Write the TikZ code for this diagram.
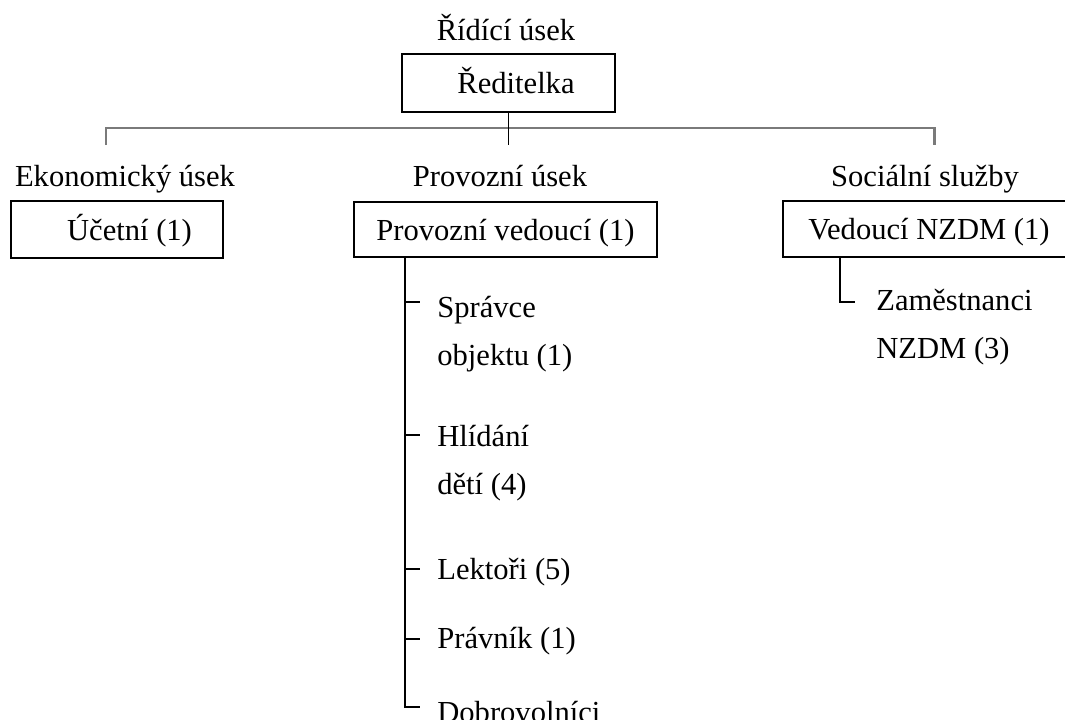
\documentclass[tikz,border=0pt]{standalone}
\usepackage{fontspec}
\setmainfont{Liberation Serif}
\usepackage{xcolor}
\usetikzlibrary{calc}
\definecolor{busgrey}{HTML}{7A7A7A}

\begin{document}
\begin{tikzpicture}[
  x=0.02cm, y=-0.02cm,
  txt/.style={inner sep=0pt, font=\fontsize{17.4pt}{27.3pt}\selectfont},
  head/.style={txt, anchor=base},
  box/.style={txt, draw=black, line width=1.1pt, minimum height=1.14cm, text height=0.62cm, text depth=0.2cm},
  item/.style={txt, anchor=west, align=left},
  conn/.style={black, line width=1pt},
  bus/.style={busgrey, line width=1.7pt}
]
\clip (0,0) rectangle (1065,720);
% top
\node[head] (hrid) at (506,40) {Řídící úsek};
\node[box, minimum width=4.26cm, minimum height=1.16cm] (red) at (508.5,83) {\hspace*{0.3cm}Ředitelka};
\coordinate (busL) at (106,128);
\coordinate (busR) at (934,128);
\coordinate (tickL) at (106,145);
\coordinate (tickR) at (934,145);
\draw[bus] (tickL) -- (busL) -- (busR) -- (tickR);
\draw[conn] (red.south) -- (red.south |- tickL);
% Ekonomicky usek
\node[head] (hek) at (125,186) {Ekonomický úsek};
\node[box, minimum width=4.24cm] (uc) at (117,229.5) {\hspace*{0.5cm}Účetní (1)};
% Provozni usek
\node[head] (hpr) at (500,186) {Provozní úsek};
\node[box, minimum width=6.06cm, minimum height=1.1cm] (pv) at (505.5,229.5) {Provozní vedoucí (1)};
\coordinate (stem) at (405,0);
\coordinate (t1) at (420,302);
\coordinate (t2) at (420,435);
\coordinate (t3) at (420,569);
\coordinate (t4) at (420,639);
\coordinate (t5) at (420,707);
\node[item] (spr) at (437,334) {Správce\\objektu (1)};
\node[item] (hli) at (437,463) {Hlídání\\dětí (4)};
\node[item] (lek) at (437,572) {Lektoři (5)};
\node[item] (pra) at (437,641) {Právník (1)};
\node[item] (dob) at (437,712) {Dobrovolníci};
\draw[conn] (pv.south -| stem) -- (stem |- t5) -- (t5);
\foreach \t in {t1,t2,t3,t4} \draw[conn] (stem |- \t) -- (\t);
% Socialni sluzby
\node[head] (hso) at (925,186) {Sociální služby};
\node[box, minimum width=5.84cm, minimum height=1.12cm] (vn) at (929,229) {Vedoucí NZDM (1)};
\coordinate (zstem) at (840,0);
\coordinate (z1) at (855,302);
\node[item] (zam) at (876,327) {Zaměstnanci\\NZDM (3)};
\draw[conn] (vn.south -| zstem) |- (z1);
\end{tikzpicture}
\end{document}
